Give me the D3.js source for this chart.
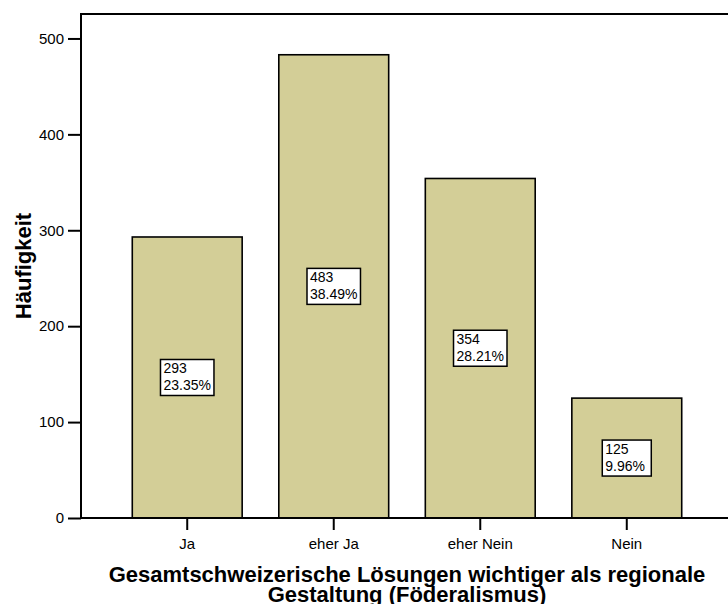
<!DOCTYPE html>
<html>
<head>
<meta charset="utf-8">
<script src="https://cdn.jsdelivr.net/npm/d3@7"></script>
<style>
  body { margin: 0; background: #fff; }
  svg { display: block; font-family: "Liberation Sans", Arial, sans-serif; }
</style>
</head>
<body>
<div id="chart"></div>
<script>
// Häufigkeiten: Gesamtschweizerische Lösungen wichtiger als regionale Gestaltung
const categories = ["Ja", "eher Ja", "eher Nein", "Nein"];
const counts = [293, 483, 354, 125];
const yTicks = [0, 100, 200, 300, 400, 500];
const yMax = 525.5;

const W = 728, H = 604;
// plot frame (right edge lies beyond the picture, as in the original)
const margin = { top: 14, left: 81, right: -5, bottom: 86 };
const plotW = W - margin.left - margin.right;
const plotH = H - margin.top - margin.bottom;

const total = d3.sum(counts);
const data = categories.map((c, i) => ({ cat: c, n: counts[i], pct: counts[i] / total * 100 }));

const svg = d3.select("#chart").append("svg")
    .attr("width", W)
    .attr("height", H);

const g = svg.append("g")
    .attr("transform", `translate(${margin.left},${margin.top})`);

const x = d3.scaleBand()
    .domain(categories)
    .range([0, plotW])
    .paddingInner(0.25)
    .paddingOuter(0.35);

const y = d3.scaleLinear()
    .domain([0, yMax])
    .range([plotH, 0]);

// bars
g.selectAll(".bar")
    .data(data)
    .enter().append("rect")
    .attr("class", "bar")
    .attr("x", d => x(d.cat))
    .attr("y", d => y(d.n))
    .attr("width", x.bandwidth())
    .attr("height", d => plotH - y(d.n))
    .attr("fill", "#d3ce97")
    .attr("stroke", "#000")
    .attr("stroke-width", 1.6);

// frame
g.append("rect")
    .attr("x", 0).attr("y", 0)
    .attr("width", plotW).attr("height", plotH)
    .attr("fill", "none")
    .attr("stroke", "#000")
    .attr("stroke-width", 2);

// y axis
const yAxis = g.append("g")
    .call(d3.axisLeft(y).tickValues(yTicks).tickSize(13).tickPadding(4));
yAxis.select(".domain").remove();
yAxis.selectAll("line").attr("stroke-width", 2);
yAxis.selectAll("text")
    .style("font-family", "Liberation Sans, Arial, sans-serif")
    .style("font-size", "15px")
    .attr("fill", "#000");

// x axis
const xAxis = g.append("g")
    .attr("transform", `translate(0,${plotH})`)
    .call(d3.axisBottom(x).tickSize(12).tickPadding(8));
xAxis.select(".domain").remove();
xAxis.selectAll("line").attr("stroke-width", 2);
xAxis.selectAll("text")
    .style("font-family", "Liberation Sans, Arial, sans-serif")
    .style("font-size", "15px")
    .attr("fill", "#000");

// value labels in boxes
const labels = g.selectAll(".lab")
    .data(data)
    .enter().append("g")
    .attr("class", "lab");

labels.each(function(d) {
    const lg = d3.select(this);
    const cx = x(d.cat) + x.bandwidth() / 2;
    const cy = (y(d.n) + plotH) / 2;
    const box = lg.append("rect")
        .attr("fill", "#fff")
        .attr("stroke", "#000")
        .attr("stroke-width", 1.5);
    const t = lg.append("text")
        .style("font-size", "14px")
        .attr("fill", "#000");
    t.append("tspan").attr("dy", 0).text(d.n);
    t.append("tspan").attr("x", 0).attr("dy", 17).text(d.pct.toFixed(2) + "%");
    const tw = t.node().getBBox().width;
    const bw = Math.max(tw + 6, 49);
    const bh = 36;
    box.attr("x", cx - bw / 2).attr("y", cy - bh / 2)
        .attr("width", bw).attr("height", bh);
    t.attr("transform", `translate(${cx - bw / 2 + 3},${cy - bh / 2 + 14})`);
});

// axis titles
g.append("text")
    .attr("transform", "rotate(-90)")
    .attr("x", -plotH / 2)
    .attr("y", -50)
    .attr("text-anchor", "middle")
    .style("font-size", "22px")
    .style("font-weight", "bold")
    .text("Häufigkeit");

const xt = g.append("text")
    .attr("x", plotW / 2)
    .attr("y", plotH + 64)
    .attr("text-anchor", "middle")
    .style("font-size", "22px")
    .style("font-weight", "bold");
xt.append("tspan").attr("x", plotW / 2).text("Gesamtschweizerische Lösungen wichtiger als regionale");
xt.append("tspan").attr("x", plotW / 2).attr("dy", 20).text("Gestaltung (Föderalismus)");
</script>
</body>
</html>
